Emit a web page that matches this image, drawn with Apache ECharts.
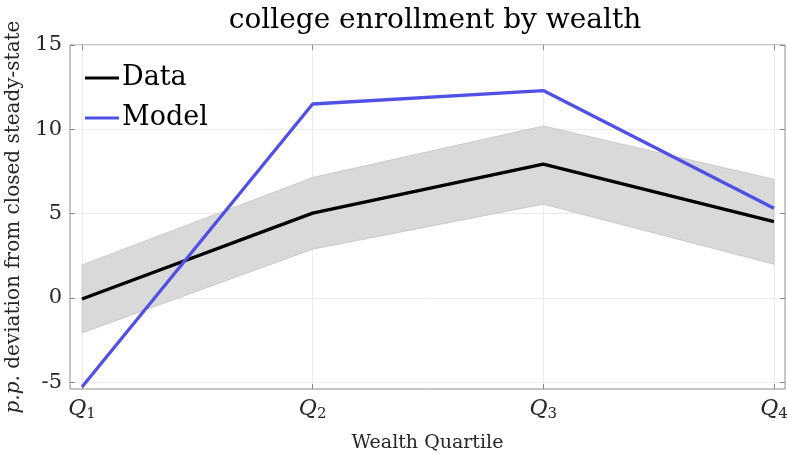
<!DOCTYPE html>
<html>
<head>
<meta charset="utf-8">
<script src="https://cdn.jsdelivr.net/npm/echarts@6/dist/echarts.min.js"></script>
<style>
  html, body { margin: 0; padding: 0; background: #fff; }
  #chart { width: 787px; height: 454px; }
</style>
</head>
<body>
<div id="chart"></div>
<script>
// quartile positions and labels
const quartiles = [0, 1, 2, 3]
const quartileSubs = ['1', '2', '3', '4']
const yTicks = [-5, 0, 5, 10, 15]

// series values (p.p.)
const dataValues = [-0.06, 5.03, 7.93, 4.53]
const modelValues = [-5.28, 11.5, 12.3, 5.32]
const bandUpper = [1.96, 7.14, 10.2, 7.04]
const bandLower = [-2.08, 2.89, 5.56, 2.0]

const serif = '"DejaVu Serif", "Liberation Serif", serif'
const boxColor = '#8c8c8c'
const gridColor = '#ebebeb'
const textColor = '#262626'

const chart = echarts.init(document.getElementById('chart'))

const pairs = vals => quartiles.map((q, i) => [q, vals[i]])

// 置信带，用 api.coord 画多边形
const renderBand = (params, api) => {
  if (params.dataIndex !== 0) return
  const pts = []
  quartiles.forEach((q, i) => pts.push(api.coord([q, bandUpper[i]])))
  for (let i = quartiles.length - 1; i >= 0; i--) {
    pts.push(api.coord([quartiles[i], bandLower[i]]))
  }
  return {
    type: 'polygon',
    shape: { points: pts },
    style: { fill: '#d9d9d9', stroke: '#bdbdbd', lineWidth: 0.7 }
  }
}

chart.setOption({
  animation: false,
  title: {
    text: 'college enrollment by wealth',
    left: 430,
    textAlign: 'center',
    top: 2,
    textStyle: { fontFamily: serif, fontWeight: 'normal', fontSize: 28, color: '#000' }
  },
  legend: {
    left: 80,
    top: 58,
    orient: 'vertical',
    itemWidth: 34,
    itemHeight: 3,
    itemGap: 10,
    icon: 'rect',
    data: ['Data', 'Model'],
    textStyle: { fontFamily: serif, fontSize: 27, color: '#000', lineHeight: 30, padding: [0, 0, 0, -2] }
  },
  grid: {
    left: 70, right: 2, top: 45, bottom: 65,
    outerBoundsMode: 'none',
    show: true, borderColor: boxColor, borderWidth: 1, backgroundColor: 'transparent'
  },
  xAxis: [{
    type: 'value',
    min: -0.052,
    max: 3.048,
    name: 'Wealth Quartile',
    nameLocation: 'middle',
    nameGap: 45,
    nameTextStyle: { fontFamily: serif, fontSize: 19, color: textColor },
    axisLine: { show: false, onZero: false },
    axisTick: { show: true, inside: true, length: 5, lineStyle: { color: boxColor }, customValues: quartiles },
    splitLine: { show: true, lineStyle: { color: gridColor } },
    axisLabel: {
      customValues: quartiles,
      margin: 8,
      formatter: v => '{q|Q}{s|' + quartileSubs[Math.round(v)] + '}',
      rich: {
        q: { fontFamily: serif, fontStyle: 'italic', fontSize: 22, color: textColor },
        s: { fontFamily: serif, fontSize: 15, color: textColor, padding: [10, 0, 0, 0] }
      }
    }
  }, {
    type: 'value',
    position: 'top',
    min: -0.052,
    max: 3.048,
    axisLine: { show: false, onZero: false },
    axisLabel: { show: false },
    splitLine: { show: false },
    axisTick: { show: true, inside: true, length: 5, lineStyle: { color: boxColor }, customValues: quartiles }
  }],
  yAxis: [{
    type: 'value',
    min: -5.4,
    max: 15,
    name: '{i|p.p.} deviation from closed steady-state',
    nameLocation: 'middle',
    nameGap: 46,
    nameTextStyle: {
      fontFamily: serif, fontSize: 20, color: textColor,
      rich: { i: { fontFamily: serif, fontStyle: 'italic', fontSize: 20, color: textColor } }
    },
    axisLine: { show: false, onZero: false },
    axisTick: { show: true, inside: true, length: 5, lineStyle: { color: boxColor }, customValues: yTicks },
    splitLine: { show: true, lineStyle: { color: gridColor } },
    axisLabel: {
      customValues: yTicks,
      margin: 8,
      fontFamily: serif, fontSize: 21, color: textColor
    }
  }, {
    type: 'value',
    position: 'right',
    min: -5.4,
    max: 15,
    axisLine: { show: false, onZero: false },
    axisLabel: { show: false },
    splitLine: { show: false },
    axisTick: { show: true, inside: true, length: 5, lineStyle: { color: boxColor }, customValues: yTicks }
  }],
  series: [
    {
      name: 'band',
      type: 'custom',
      silent: true,
      renderItem: renderBand,
      encode: { x: 0, y: [1, 2] },
      data: quartiles.map((q, i) => [q, bandLower[i], bandUpper[i]])
    },
    {
      name: 'Data',
      type: 'line',
      data: pairs(dataValues),
      symbol: 'none',
      color: '#000000',
      lineStyle: { color: '#000000', width: 3.3 }
    },
    {
      name: 'Model',
      type: 'line',
      data: pairs(modelValues),
      symbol: 'none',
      color: '#5050e6',
      lineStyle: { color: '#5050e6', width: 3.3 }
    }
  ]
})
</script>
</body>
</html>
